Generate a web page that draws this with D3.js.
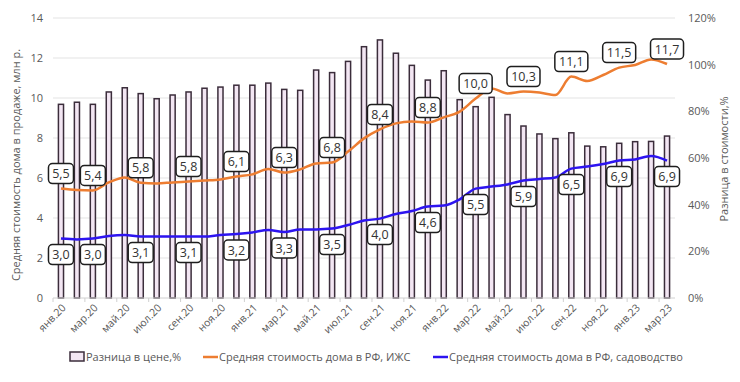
<!DOCTYPE html>
<html><head><meta charset="utf-8">
<script src="https://cdn.jsdelivr.net/npm/d3@7/dist/d3.min.js"></script>
<style>body{margin:0;background:#fff}svg{display:block;font-family:"Open Sans",sans-serif}</style>
</head><body><svg id="c" width="740" height="382"></svg>
<script>
const months = ["янв.20","фев.20","мар.20","апр.20","май.20","июн.20","июл.20","авг.20","сен.20","окт.20","ноя.20","дек.20",
"янв.21","фев.21","мар.21","апр.21","май.21","июн.21","июл.21","авг.21","сен.21","окт.21","ноя.21","дек.21",
"янв.22","фев.22","мар.22","апр.22","май.22","июн.22","июл.22","авг.22","сен.22","окт.22","ноя.22","дек.22",
"янв.23","фев.23","мар.23"];
const diffPct = [83.0,83.9,83.0,88.3,90.1,87.6,85.4,87.0,88.3,89.9,90.4,91.2,91.2,92.1,89.4,89.0,97.7,96.6,101.4,107.7,
110.6,104.9,99.7,93.4,97.4,85.0,82.0,86.0,78.6,73.7,70.3,68.3,70.8,65.1,64.8,66.3,67.0,67.1,69.4];
const izhs = [5.47,5.40,5.38,5.78,6.03,5.76,5.73,5.78,5.82,5.87,5.93,6.07,6.18,6.45,6.27,6.43,6.73,6.77,7.32,7.98,
8.43,8.73,8.82,8.77,9.03,9.32,9.97,10.48,10.23,10.32,10.27,10.15,11.07,10.85,11.15,11.52,11.65,11.93,11.70];
const sad = [2.97,2.93,2.97,3.10,3.15,3.07,3.07,3.07,3.07,3.07,3.15,3.20,3.28,3.40,3.30,3.43,3.43,3.47,3.65,3.87,
3.97,4.20,4.35,4.57,4.62,4.93,5.47,5.57,5.68,5.87,5.95,6.03,6.47,6.57,6.70,6.87,6.93,7.10,6.87];
const labelIdx = [0,2,5,8,11,14,17,20,23,26,29,32,35,38];
const leftTicks = [0,2,4,6,8,10,12,14];
const rightTicks = [0,20,40,60,80,100,120];
const seriesNames = ["Разница в цене,%","Средняя стоимость дома в РФ, ИЖС","Средняя стоимость дома в РФ, садоводство"];
const leftTitle = "Средняя стоимость дома в продаже, млн р.";
const rightTitle = "Разница в стоимости,%";

const svg = d3.select("#c");
const L=53, R=675, T=18, B=298;
const x = d3.scaleBand().domain(months).range([L,R]).paddingInner(0.68).paddingOuter(0.34);
const cx = m => x(m) + x.bandwidth()/2;
const yL = d3.scaleLinear().domain([0,14]).range([B,T]);
const yR = d3.scaleLinear().domain([0,120]).range([B,T]);
const gray="#595959";
const fmt = v => d3.format(".1f")(v).replace(".",",");

// gridlines
svg.append("g").selectAll("line").data(leftTicks.filter(d=>d>0)).join("line")
  .attr("x1",L).attr("x2",R).attr("y1",d=>yL(d)).attr("y2",d=>yL(d))
  .attr("stroke","#e3e3e3").attr("stroke-width",1);

// left axis
const gl = svg.append("g").attr("transform",`translate(${L-10},0)`)
  .call(d3.axisLeft(yL).tickValues(leftTicks).tickSize(0).tickPadding(0));
gl.select(".domain").remove();
gl.selectAll("text").attr("fill",gray).style("font-size","11px").style("font-family","Open Sans");
// right axis
const gr = svg.append("g").attr("transform",`translate(${R+13},0)`)
  .call(d3.axisRight(yR).tickValues(rightTicks).tickSize(0).tickPadding(0).tickFormat(d=>d+"%"));
gr.select(".domain").remove();
gr.selectAll("text").attr("fill",gray).style("font-size","11px").style("font-family","Open Sans");

// bars
svg.append("g").selectAll("rect").data(months).join("rect")
  .attr("x",m=>x(m)).attr("width",x.bandwidth())
  .attr("y",(m,i)=>yR(diffPct[i])).attr("height",(m,i)=>B-yR(diffPct[i]))
  .attr("fill","#f3e6f3").attr("stroke","#3b2d3b").attr("stroke-width",1.5);

// x axis
svg.append("line").attr("x1",L).attr("x2",R).attr("y1",B).attr("y2",B).attr("stroke","#d0d0d0");
const tickPos = d3.range(0,months.length+1,2).map(i=>L+i*x.step());
svg.append("g").selectAll("line").data(tickPos).join("line")
  .attr("x1",d=>d).attr("x2",d=>d).attr("y1",B).attr("y2",B+4).attr("stroke","#d0d0d0");
svg.append("g").selectAll("text").data(months.filter((m,i)=>i%2===0)).join("text")
  .attr("transform",m=>`translate(${cx(m)+3},${B+8}) rotate(-45)`)
  .attr("text-anchor","end").attr("dy","0.35em")
  .attr("fill",gray).style("font-size","10.5px").text(m=>m);

// lines
const line = arr => d3.line().x((d,i)=>cx(months[i])).y(d=>yL(d)).curve(d3.curveMonotoneX)(arr);
svg.append("path").attr("d",line(izhs)).attr("fill","none").attr("stroke","#ED7D31").attr("stroke-width",2.5);
svg.append("path").attr("d",line(sad)).attr("fill","none").attr("stroke","#2d14f0").attr("stroke-width",2.5);

// data labels
function labels(arr, off){
  const g = svg.append("g");
  labelIdx.forEach(i=>{
    const t = fmt(arr[i]);
    const w = t.length>3 ? 33 : 25, h = 20;
    const X = cx(months[i]), Y = yL(arr[i]) + off;
    g.append("rect").attr("x",X-w/2).attr("y",Y-h/2).attr("width",w).attr("height",h)
      .attr("rx",4).attr("fill","#fff").attr("stroke","#1e1e1e").attr("stroke-width",1.5);
    g.append("text").attr("x",X).attr("y",Y).attr("dy","0.36em").attr("text-anchor","middle")
      .attr("fill","#333").style("font-size","12.5px").text(t);
  });
}
labels(izhs,-15);
labels(sad,16);

// axis titles
svg.append("text").attr("transform",`translate(20,165) rotate(-90)`).attr("text-anchor","middle")
  .attr("fill",gray).style("font-size","11px").text(leftTitle);
svg.append("text").attr("transform",`translate(728,159) rotate(-90)`).attr("text-anchor","middle")
  .attr("fill",gray).style("font-size","11px").text(rightTitle);

// legend
const lg = svg.append("g").attr("transform","translate(0,357)");
lg.append("rect").attr("x",70).attr("y",-5).attr("width",14).attr("height",9)
  .attr("fill","#f3e6f3").attr("stroke","#3b2d3b").attr("stroke-width",1.5);
lg.append("text").attr("x",86).attr("y",0).attr("dy","0.35em").attr("fill",gray).style("font-size","11px").text(seriesNames[0]);
lg.append("line").attr("x1",203).attr("x2",218).attr("y1",0).attr("y2",0).attr("stroke","#ED7D31").attr("stroke-width",2.5);
lg.append("text").attr("x",219).attr("y",0).attr("dy","0.35em").attr("fill",gray).style("font-size","11px").text(seriesNames[1]);
lg.append("line").attr("x1",433).attr("x2",448).attr("y1",0).attr("y2",0).attr("stroke","#2d14f0").attr("stroke-width",2.5);
lg.append("text").attr("x",449).attr("y",0).attr("dy","0.35em").attr("fill",gray).style("font-size","11px").text(seriesNames[2]);
</script></body></html>
